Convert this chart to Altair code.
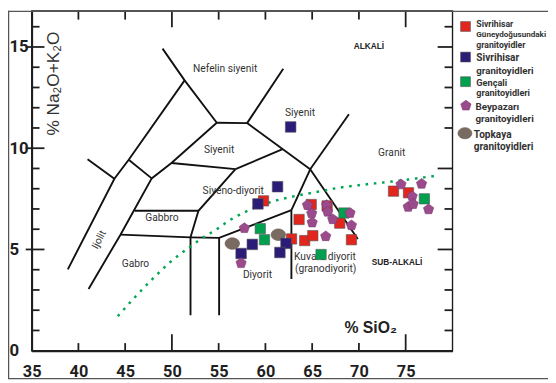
import altair as alt
import pandas as pd

# ---------------- data ----------------
# TAS field boundaries (SiO2, Na2O+K2O) polylines
boundaries = [
    [(49.0, 14.92), (51.36, 13.35), (54.80, 11.26)],
    [(54.80, 11.26), (58.04, 11.24)],
    [(58.04, 11.24), (61.91, 13.92)],
    [(58.04, 11.24), (64.79, 8.96)],
    [(64.79, 8.96), (68.93, 11.68)],
    [(51.36, 13.35), (45.38, 9.43), (43.85, 8.49), (38.87, 4.02)],
    [(54.80, 11.26), (49.95, 9.27), (47.84, 8.51), (44.50, 5.73), (41.09, 3.05)],
    [(45.38, 9.43), (47.84, 8.51)],
    [(40.98, 9.46), (43.85, 8.49)],
    [(49.95, 9.27), (56.80, 8.97)],
    [(56.80, 8.97), (61.84, 9.95)],
    [(56.80, 8.97), (52.84, 6.91), (51.99, 5.60)],
    [(46.01, 6.91), (52.84, 6.91)],
    [(44.50, 5.73), (51.99, 5.60), (55.05, 5.57), (62.78, 6.94)],
    [(51.99, 5.60), (51.99, 1.75)],
    [(55.05, 5.57), (55.05, 1.75)],
    [(64.79, 8.96), (62.78, 6.94), (62.78, 3.54)],
    [(64.79, 8.96), (69.88, 5.52)],
]

# alkaline / sub-alkaline divider (dotted)
irv_x = [44.3, 46.2, 48.2, 50.0, 51.7, 53.2, 54.7, 56.2, 57.6, 59.1, 61.0, 62.8, 65.4, 67.9, 70.5, 74.0, 78.4]
irv_y = [1.75, 2.72, 3.67, 4.45, 5.05, 5.55, 5.97, 6.45, 6.80, 7.10, 7.40, 7.60, 7.83, 8.05, 8.20, 8.38, 8.65]

# samples
red_x = [59.8, 63.6, 64.9, 66.6, 67.95, 64.2, 65.07, 62.8, 69.2, 73.7, 75.3]
red_y = [7.4, 6.48, 7.22, 7.15, 6.3, 5.44, 5.68, 5.52, 5.48, 7.88, 7.8]
green_x = [59.45, 59.9, 68.4, 65.95, 77.0]
green_y = [6.03, 5.48, 6.8, 4.75, 7.5]
brown_x = [56.46, 61.38]
brown_y = [5.29, 5.73]
navy_x = [62.7, 61.3, 59.2, 58.6, 57.4, 62.2, 61.55]
navy_y = [11.05, 8.1, 7.25, 5.25, 4.8, 5.3, 4.85]
purple_x = [57.75, 57.4, 64.5, 64.95, 65.0, 66.55, 66.66, 67.2, 66.45, 69.05, 69.2,
            74.5, 76.7, 75.7, 75.27, 75.8, 77.45]
purple_y = [6.05, 4.32, 7.19, 6.78, 6.33, 7.19, 6.86, 6.49, 5.65, 6.8, 6.19,
            8.21, 8.24, 7.62, 7.1, 7.24, 6.98]

# field names
field_names = ["Nefelin siyenit", "Siyenit", "Siyenit", "Siyeno-diyorit", "Gabbro", "Gabro",
               "Diyorit", "Kuvars diyorit", "(granodiyorit)", "Granit"]
field_x = [55.69, 63.70, 55.05, 56.56, 48.93, 46.10, 59.15, 66.37, 66.45, 73.51]
field_y = [13.92, 11.73, 9.90, 7.88, 6.57, 4.30, 3.73, 4.64, 4.02, 9.78]
series_names = ["ALKALİ", "SUB-ALKALİ"]
series_x = [71.07, 74.07]
series_y = [15.06, 4.38]

x_tick_labels = [35, 40, 45, 50, 55, 60, 65, 70, 75]
y_tick_labels = [0, 5, 10, 15]
xt_minor = [40, 45, 55, 60, 65, 70]
xt_major = [50, 75]
yl_minor = [1, 2, 3, 4, 6, 7, 8, 9, 11, 12, 13, 14, 16]
yl_major = [5, 10, 15]
yr_minor = [1, 2, 3, 4, 6, 7, 8, 11, 12, 13, 14, 16]
yr_major = [5, 9, 15]

# ---------------- styling ----------------
W, H = 427, 345
NARROW = "Liberation Sans Narrow, Roboto, sans-serif"
SANS = "Liberation Sans, Arial, sans-serif"
INK = "#1e1e1e"
C_RED, C_NAVY, C_GREEN, C_PURP, C_BROWN = "#e2261d", "#2b1c78", "#00a04e", "#9b4a8c", "#7a6b62"
PENT = "M0,-1L0.951,-0.309L0.588,0.809L-0.588,0.809L-0.951,-0.309Z"
ELL = "M-1,0A1,0.8 0 1,0 1,0A1,0.8 0 1,0 -1,0Z"

xaxis = alt.Axis(values=x_tick_labels, title=None, grid=False, ticks=False, tickSize=0,
                 domainColor=INK, domainWidth=2, labelFont=NARROW, labelFontSize=16.5,
                 labelFontWeight="bold", labelColor=INK, labelPadding=13.5,
                 labelFlush=False, labelOverlap=False)
yaxis = alt.Axis(values=y_tick_labels, title=None, grid=False, ticks=False, tickSize=0,
                 domainColor=INK, domainWidth=2, labelFont=NARROW, labelFontSize=17,
                 labelFontWeight="bold", labelColor=INK, labelPadding=23, labelAlign="left",
                 labelBaseline="middle", labelFlush=False, labelOverlap=False)
xenc = alt.X("x:Q", scale=alt.Scale(domain=[35, 80], nice=False, zero=False), axis=xaxis)
yenc = alt.Y("y:Q", scale=alt.Scale(domain=[0, 16.79], nice=False, zero=False), axis=yaxis)

rows = []
for i, seg in enumerate(boundaries):
    for j, (a, b) in enumerate(seg):
        rows.append({"seg": i, "ord": j, "x": a, "y": b})
bdf = pd.DataFrame(rows)

lines = alt.Chart(bdf).mark_line(color="#111", strokeWidth=1.9).encode(
    x=xenc, y=yenc, detail="seg:N", order="ord:Q")

curve = alt.Chart(pd.DataFrame({"x": irv_x, "y": irv_y, "o": list(range(len(irv_x)))})).mark_line(
    color="#00a651", strokeWidth=2.5, strokeDash=[0.1, 8.3], strokeCap="square",
    interpolate="monotone").encode(x=xenc, y=yenc, order="o:Q")

flabels = alt.Chart(pd.DataFrame({"x": field_x, "y": field_y, "t": field_names})).mark_text(
    font=NARROW, fontSize=10.4, color="#333", align="center", baseline="middle").encode(
    x=xenc, y=yenc, text="t:N")
ijolit = alt.Chart(pd.DataFrame({"x": [42.22], "y": [5.48], "t": ["Ijolit"]})).mark_text(
    font=NARROW, fontSize=10.4, color="#333", angle=297, align="center", baseline="middle").encode(
    x=xenc, y=yenc, text="t:N")
slabels = alt.Chart(pd.DataFrame({"x": series_x, "y": series_y, "t": series_names})).mark_text(
    font=SANS, fontSize=8.4, fontWeight="bold", color="#222", align="center", baseline="middle").encode(
    x=xenc, y=yenc, text="t:N")


def tick_x(vals, y0, y1):
    return alt.Chart(pd.DataFrame({"x": vals})).mark_rule(color=INK, strokeWidth=1.8).encode(
        x=xenc, y=alt.value(y0), y2=alt.value(y1))


def tick_y(vals, x0, x1):
    return alt.Chart(pd.DataFrame({"y": vals})).mark_rule(color=INK, strokeWidth=1.8).encode(
        y=yenc, x=alt.value(x0), x2=alt.value(x1))


ticks = [
    tick_x(xt_minor, H, H - 7.7), tick_x(xt_major, H, H - 16.7),
    tick_x(xt_minor, 0, 9), tick_x(xt_major, 0, 16.7),
    tick_y(yl_minor, 0, 8), tick_y(yl_major, -6, 13),
    tick_y(yr_minor, W, W - 8), tick_y(yr_major, W, W - 15),
]


def pts(xs, ys, shape, size, color, stroke="#555", sw=0.6):
    return alt.Chart(pd.DataFrame({"x": xs, "y": ys})).mark_point(
        shape=shape, size=size, filled=True, fill=color, stroke=stroke, strokeWidth=sw,
        opacity=1).encode(x=xenc, y=yenc)


points = [
    pts(red_x, red_y, "square", 110, C_RED),
    pts(green_x, green_y, "square", 110, C_GREEN),
    pts(brown_x, brown_y, ELL, 215, C_BROWN, "#6a5c54"),
    pts(navy_x, navy_y, "square", 115, C_NAVY),
    pts(purple_x, purple_y, PENT, 120, C_PURP, "#7d3a70"),
]

one = alt.Data(values=[{}])


def ptext(txt, px, py, size, font=NARROW, weight="bold", angle=0, align="left", color="#333"):
    return alt.Chart(one).mark_text(font=font, fontSize=size, fontWeight=weight, angle=angle,
                                    align=align, baseline="middle", color=color).encode(
        x=alt.value(px), y=alt.value(py), text=alt.value(txt))


def psym(shape, px, py, size, color, stroke="#555"):
    return alt.Chart(one).mark_point(shape=shape, size=size, filled=True, fill=color,
                                     stroke=stroke, strokeWidth=0.6, opacity=1).encode(
        x=alt.value(px), y=alt.value(py))


legend = [
    psym("square", 440.3, 16, 100, C_RED),
    ptext("Sivrihisar", 451.3, 13, 8.8), ptext("Güneydoğusundaki", 451.3, 24.5, 8.2),
    ptext("granitoyidler", 451.3, 35, 8.8),
    psym("square", 440.3, 47, 100, C_NAVY),
    ptext("Sivrihisar", 451.3, 48, 10.2), ptext("granitoyidleri", 451.3, 61, 9.8),
    psym("square", 440.3, 72, 100, C_GREEN),
    ptext("Gençali", 451.3, 73, 9.3), ptext("granitoyidleri", 451.3, 84, 9.2),
    psym(PENT, 440.7, 96.3, 120, C_PURP, "#7d3a70"),
    ptext("Beypazarı", 450.3, 98, 10), ptext("granitoyidleri", 450.3, 109.5, 10),
    psym(ELL, 439.7, 124.3, 200, C_BROWN, "#6a5c54"),
    ptext("Topkaya", 448.7, 125.7, 10.2), ptext("granitoyidleri", 448.7, 138, 10.2),
]

titles = [
    ptext("% Na₂O+K₂O", 23, 74, 17.5, font=SANS, weight="normal", angle=270, align="center"),
    ptext("% SiO₂", 344, 322, 16, font=SANS, weight="bold", align="center", color="#222"),
]

frame = [
    alt.Chart(one).mark_rule(color="#555", strokeWidth=1.3).encode(
        x=alt.value(-24), x2=alt.value(524), y=alt.value(0.6)),
    alt.Chart(one).mark_rule(color="#555", strokeWidth=1.3).encode(
        x=alt.value(-23.4), y=alt.value(0), y2=alt.value(373)),
    alt.Chart(one).mark_rule(color="#555", strokeWidth=1.3).encode(
        x=alt.value(-24), x2=alt.value(524), y=alt.value(373.4)),
]

chart = alt.layer(
    lines, curve, flabels, ijolit, slabels, *ticks, *points, *legend, *titles, *frame
).properties(
    width=W, height=H,
    autosize=alt.AutoSizeParams(type="none"),
    padding={"left": 24, "top": 0, "right": 97, "bottom": 30},
).configure_view(stroke=INK, strokeWidth=1.4)

chart.save("out.html", embed_options={"renderer": "svg", "actions": False})
